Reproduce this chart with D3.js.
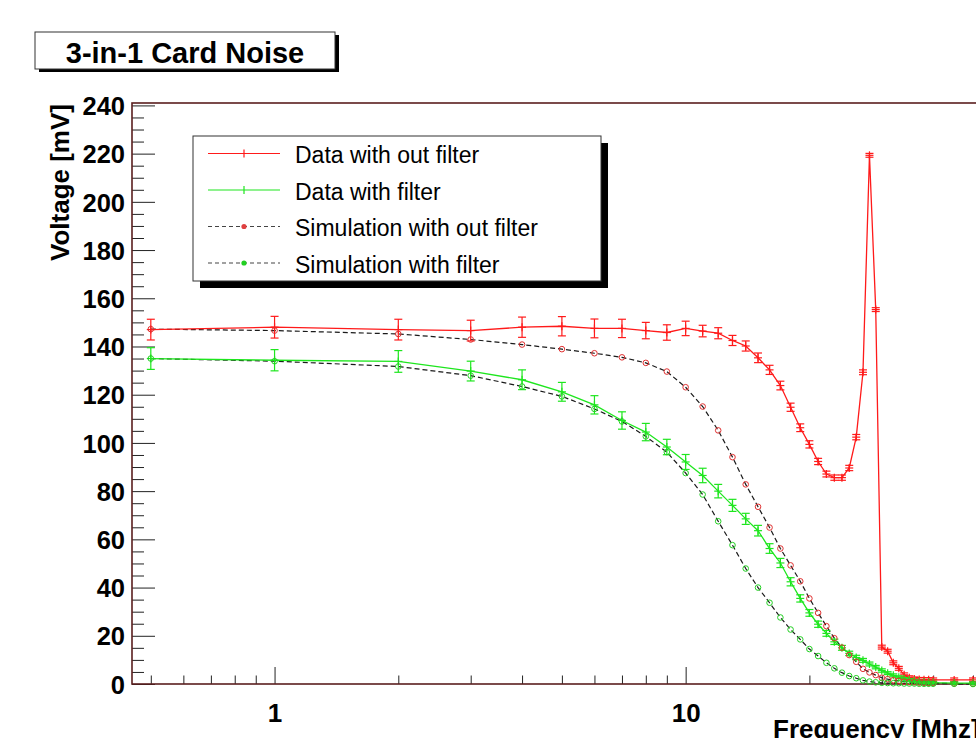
<!DOCTYPE html>
<html><head><meta charset="utf-8">
<script src="https://cdn.jsdelivr.net/npm/d3@7"></script>
<style>
body{margin:0;background:#fff;}
svg{display:block;}
text{font-family:"Liberation Sans",Arial,Helvetica,sans-serif;}
</style>
</head><body>
<svg id="c" width="976" height="738"></svg>
<script>
// ---------------- data ----------------
const freq = [0.5,1,2,3,4,5,6,7,8,9,10,11,12,13,14,15,16,17,18,19,20,21,22,23,24,25,26,27,28,29,30,31,32,33,34,35,36,37,38,39,40,45,50];
const dataNoFilter = [147,148,147,146.6,148,148.4,147.5,147.5,146.6,145.8,147.5,146.4,145.5,142.5,140.2,135.3,130.3,123.8,114.8,106.3,99.4,92.3,87.1,85.6,85.6,89.6,102.4,129.3,219.3,155.3,15.3,13.6,8.8,6.5,3.8,2.6,2.1,1.9,1.8,1.8,1.7,1.7,1.7];
const dataNoFilterErr = [4.3,4.5,4.3,4.3,4.2,4.0,3.9,3.8,3.4,3.2,3.0,2.4,2.3,2.1,2.1,2.0,1.9,1.8,1.7,1.6,1.5,1.3,1.2,1.1,1.1,1.1,1.1,1.0,0.8,0.8,0.8,0.8,0.8,0.8,0.8,0.8,0.8,0.8,0.8,0.8,0.8,0.8,0.8];
const dataFilter = [135.0,134.3,133.8,129.8,126.2,121.2,115.8,109.3,104.5,98.3,92.1,86.5,80.0,74.1,68.5,63.6,56.2,50.2,42.4,35.5,29.5,24.8,21.0,17.5,15.0,12.7,11.0,9.8,8.3,7.0,5.6,4.5,3.6,2.8,2.2,1.7,1.3,1.0,0.8,0.7,0.6,0.4,0.4];
const dataFilterErr = [4.5,4.4,4.5,4.1,4.1,3.9,3.8,3.6,3.6,3.2,3.1,3.0,2.8,2.5,2.3,2.2,2.0,1.9,1.7,1.5,1.4,1.3,1.2,1.1,1.0,0.9,0.9,0.8,0.8,0.7,0.7,0.6,0.6,0.6,0.5,0.5,0.5,0.5,0.5,0.5,0.5,0.5,0.5];
const simNoFilter = [147.2,146.6,145.2,142.9,140.8,138.9,137.2,135.5,133.2,129.6,123.1,115.1,105.2,94.1,82.8,73.5,64.9,56.2,49.2,42.6,35.5,29.5,24.0,19.0,15.1,12.0,9.2,6.3,4.8,3.7,2.6,2.0,1.6,1.3,1.0,0.8,0.7,0.6,0.5,0.4,0.4,0.2,0.1];
const simFilter = [135.0,133.9,131.7,127.9,123.4,119.3,114.1,108.9,102.7,96.2,87.5,78.6,67.5,57.6,47.9,40.0,33.7,27.6,22.6,18.5,14.5,11.6,8.8,6.5,4.7,3.3,2.4,1.5,1.0,0.7,0.5,0.4,0.3,0.3,0.2,0.2,0.2,0.1,0.1,0.1,0.1,0.1,0.0];

const yMajorTicks = [0,20,40,60,80,100,120,140,160,180,200,220,240];
const yMinorTicks = d3.range(0, 241, 5).filter(v => v % 20 !== 0);
const xMajorTicks = [1,10];
const xMinorTicks = [0.5,0.6,0.7,0.8,0.9,2,3,4,5,6,7,8,9,20,30,40,50];
const legendLabels = ["Data with out filter","Data with filter","Simulation with out filter","Simulation with filter"];
const titleText = "3-in-1 Card Noise";
const xTitle = "Frequency [Mhz]";
const yTitle = "Voltage [mV]";

// ---------------- setup ----------------
const svg = d3.select("#c");
const W = 976, H = 738;
const plot = {left:132, right:990, top:103, bottom:684};
const x = d3.scaleLog().domain([0.45, 55]).range([plot.left, plot.right]);
const y = d3.scaleLinear().domain([0, 241]).range([plot.bottom, plot.top]);

const RED = "#ff1a1a", GREEN = "#1ee61e", DASH = "#1a1a1a", FRAME = "#5a1e1e";

svg.append("rect").attr("width", W).attr("height", H).attr("fill", "#fff");

// title box
svg.append("rect").attr("x", 39).attr("y", 35).attr("width", 300).attr("height", 37).attr("fill", "#000");
svg.append("rect").attr("x", 35).attr("y", 32).attr("width", 300).attr("height", 37).attr("fill", "#fff").attr("stroke", "#333").attr("stroke-width", 1);
svg.append("text").attr("x", 185).attr("y", 63).attr("text-anchor", "middle")
  .attr("font-weight", "bold").attr("font-size", 29).attr("fill", "#000").text(titleText);

// axes
const yAxMajor = d3.axisLeft(y).tickValues(yMajorTicks).tickSizeInner(-23).tickSizeOuter(0).tickPadding(7).tickFormat(d3.format("d"));
const gy = svg.append("g").attr("transform", `translate(${plot.left},0)`).call(yAxMajor);
gy.select(".domain").remove();
gy.selectAll("line").attr("stroke", "#222").attr("stroke-width", 1);
gy.selectAll("text").attr("font-size", 25.5).attr("font-weight", "bold").attr("fill", "#000")
  .attr("font-family", "'Liberation Sans',Arial,Helvetica,sans-serif").attr("dy", "0.36em");

const yAxMinor = d3.axisLeft(y).tickValues(yMinorTicks).tickSizeInner(-12).tickSizeOuter(0).tickFormat("");
const gy2 = svg.append("g").attr("transform", `translate(${plot.left},0)`).call(yAxMinor);
gy2.select(".domain").remove();
gy2.selectAll("line").attr("stroke", "#222").attr("stroke-width", 1);

const xAxMajor = d3.axisBottom(x).tickValues(xMajorTicks).tickSizeInner(-17).tickSizeOuter(0).tickPadding(20).tickFormat(d3.format("d"));
const gx = svg.append("g").attr("transform", `translate(0,${plot.bottom})`).call(xAxMajor);
gx.select(".domain").remove();
gx.selectAll("line").attr("stroke", "#222").attr("stroke-width", 1);
gx.selectAll("text").attr("font-size", 26).attr("font-weight", "bold").attr("fill", "#000")
  .attr("font-family", "'Liberation Sans',Arial,Helvetica,sans-serif");

const xAxMinor = d3.axisBottom(x).tickValues(xMinorTicks).tickSizeInner(-8.5).tickSizeOuter(0).tickFormat("");
const gx2 = svg.append("g").attr("transform", `translate(0,${plot.bottom})`).call(xAxMinor);
gx2.select(".domain").remove();
gx2.selectAll("line").attr("stroke", "#222").attr("stroke-width", 1);

// frame
svg.append("rect").attr("x", plot.left).attr("y", plot.top)
  .attr("width", plot.right - plot.left).attr("height", plot.bottom - plot.top)
  .attr("fill", "none").attr("stroke", FRAME).attr("stroke-width", 1.6);

// axis titles
svg.append("text").attr("transform", `translate(69,${plot.top+1}) rotate(-90)`).attr("text-anchor", "end")
  .attr("font-weight", "bold").attr("font-size", 26).attr("fill", "#000").text(yTitle);
svg.append("text").attr("x", 773).attr("y", 738).attr("text-anchor", "start")
  .attr("font-weight", "bold").attr("font-size", 26).attr("fill", "#000").text(xTitle);

// ---------------- series ----------------
const line = d3.line().x(d => x(d[0])).y(d => y(d[1]));
const g = svg.append("g");

function simSeries(vals) {
  const pts = freq.map((f, i) => [f, vals[i]]);
  g.append("path").datum(pts).attr("d", line).attr("fill", "none")
    .attr("stroke", DASH).attr("stroke-width", 1.2).attr("stroke-dasharray", "5,3");
  return pts;
}
function simMarkers(pts, color) {
  g.append("g").selectAll("circle").data(pts).join("circle")
    .attr("cx", d => x(d[0])).attr("cy", d => y(d[1])).attr("r", 2.8)
    .attr("fill", "none").attr("stroke", color).attr("stroke-width", 1);
}
function dataSeries(vals, errs, color) {
  const pts = freq.map((f, i) => [f, vals[i], errs[i]]);
  g.append("path").datum(pts).attr("d", line).attr("fill", "none")
    .attr("stroke", color).attr("stroke-width", 1.3);
  const eg = g.append("g").attr("stroke", color).attr("stroke-width", 1.2);
  pts.forEach(d => {
    const cx = x(d[0]), y1 = y(d[1] - d[2]), y2 = y(d[1] + d[2]), cy = y(d[1]);
    eg.append("line").attr("x1", cx).attr("x2", cx).attr("y1", y1).attr("y2", y2);
    eg.append("line").attr("x1", cx - 4).attr("x2", cx + 4).attr("y1", y1).attr("y2", y1);
    eg.append("line").attr("x1", cx - 4).attr("x2", cx + 4).attr("y1", y2).attr("y2", y2);
    eg.append("line").attr("x1", cx - 4).attr("x2", cx + 4).attr("y1", cy).attr("y2", cy);
    eg.append("line").attr("x1", cx).attr("x2", cx).attr("y1", cy - 4).attr("y2", cy + 4);
  });
}

const simA = simSeries(simNoFilter);
const simB = simSeries(simFilter);
dataSeries(dataNoFilter, dataNoFilterErr, RED);
dataSeries(dataFilter, dataFilterErr, GREEN);
simMarkers(simA, "#e03030");
simMarkers(simB, "#22d022");

// ---------------- legend ----------------
const lg = svg.append("g");
lg.append("rect").attr("x", 200).attr("y", 143).attr("width", 408).attr("height", 145).attr("fill", "#000");
lg.append("rect").attr("x", 193).attr("y", 136).attr("width", 408).attr("height", 145).attr("fill", "#fff")
  .attr("stroke", "#333").attr("stroke-width", 1);
const rowY = [153.5, 190, 226.5, 263];
const styles = [
  {color: RED, dash: null, marker: "plus"},
  {color: GREEN, dash: null, marker: "plus"},
  {color: "#e04040", dash: "4,3", marker: "dot"},
  {color: "#22d022", dash: "4,3", marker: "dot"}
];
legendLabels.forEach((lab, i) => {
  const yy = rowY[i], s = styles[i];
  lg.append("line").attr("x1", 208).attr("x2", 280).attr("y1", yy).attr("y2", yy)
    .attr("stroke", s.dash ? "#444" : s.color).attr("stroke-width", 1.2)
    .attr("stroke-dasharray", s.dash);
  if (s.marker === "plus") {
    lg.append("line").attr("x1", 244).attr("x2", 244).attr("y1", yy - 4).attr("y2", yy + 4).attr("stroke", s.color).attr("stroke-width", 1.2);
  } else {
    lg.append("circle").attr("cx", 244).attr("cy", yy).attr("r", 2.6).attr("fill", s.color);
  }
  lg.append("text").attr("x", 295).attr("y", yy + 9.5).attr("font-size", 23).attr("fill", "#000").text(lab);
});
</script>
</body></html>
